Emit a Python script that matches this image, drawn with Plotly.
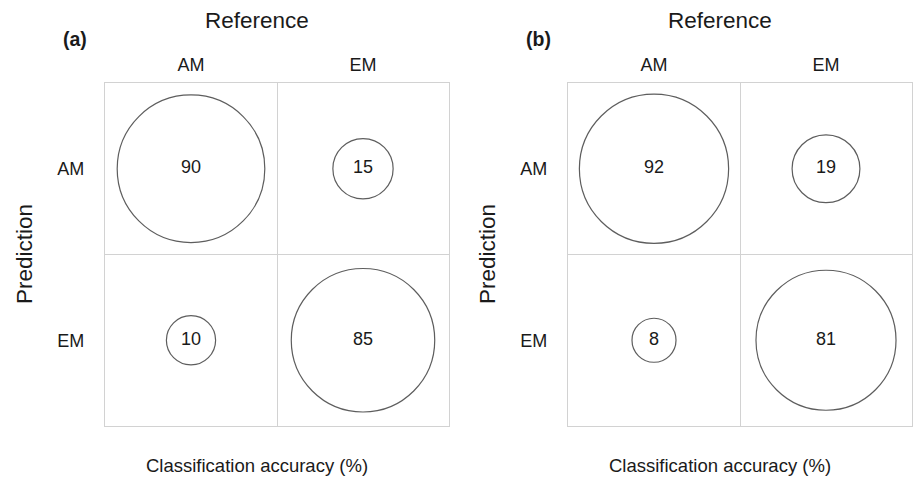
import plotly.graph_objects as go

# Confusion-matrix bubble charts: classification accuracy (%) per cell
classes = ["AM", "EM"]
# rows = prediction, columns = reference
acc_a = [[90, 15],   # predicted AM
         [10, 85]]   # predicted EM
acc_b = [[92, 19],
         [8, 81]]
panel_tags = ["(a)", "(b)"]

W, H = 914, 478
FONT = "Liberation Sans, Arial, Helvetica, sans-serif"
GRID = "#d2d2d2"
INK = "#1a1a1a"

# panel plot areas in pixels (left, right, top, bottom)
panels = [(105, 449, 83, 426), (568, 912, 83, 426)]

fig = go.Figure()

px_per_sqrt = 7.78  # bubble radius per sqrt(percent)
sizeref = 1.0 / (2 * px_per_sqrt ** 2)

for i, (mat, tag, (l, r, t, b)) in enumerate(zip([acc_a, acc_b], panel_tags, panels)):
    xs, ys, vals = [], [], []
    for ri, pred in enumerate(classes):
        for ci, ref in enumerate(classes):
            xs.append(ref)
            ys.append(pred)
            vals.append(mat[ri][ci])
    xa = "x" if i == 0 else "x2"
    ya = "y" if i == 0 else "y2"
    fig.add_trace(go.Scatter(
        x=xs, y=ys, mode="markers+text",
        text=[str(v) for v in vals], textposition="middle center",
        textfont=dict(family=FONT, size=18, color=INK),
        marker=dict(size=vals, sizemode="area", sizeref=sizeref,
                    color="rgba(255,255,255,0)",
                    line=dict(color=INK, width=1.2)),
        xaxis=xa, yaxis=ya, showlegend=False, hoverinfo="skip",
    ))

    axis_common = dict(
        type="category", showgrid=True, gridcolor=GRID, gridwidth=1.3,
        showline=True, linecolor=GRID, linewidth=1.3, mirror=True,
        zeroline=False, ticks="", tickson="boundaries",
        tickfont=dict(family=FONT, size=18, color=INK),
        range=[-0.5, 1.5], fixedrange=True,
    )
    xdom = [l / W, r / W]
    ydom = [1 - b / H, 1 - t / H]
    suffix = "" if i == 0 else "2"
    fig.update_layout(**{
        "xaxis" + suffix: dict(axis_common, domain=xdom, side="top",
                               categoryorder="array", categoryarray=classes,
                               ticklabelstandoff=4,
                               anchor="y" + suffix),
        "yaxis" + suffix: dict(axis_common, domain=ydom,
                               categoryorder="array", categoryarray=classes[::-1],
                               ticklabelstandoff=16,
                               anchor="x" + suffix),
    })

    cx = (l + r) / 2 - 20
    anns = [
        dict(text="Reference", x=cx / W, y=1 - 21 / H, size=22.5, angle=0),
        dict(text="<b>%s</b>" % tag, x=(l - 30) / W, y=1 - 39 / H, size=19.5, angle=0),
        dict(text="Prediction", x=(l - 81) / W, y=1 - 254 / H, size=22.5, angle=-90),
        dict(text="Classification accuracy (%)", x=cx / W, y=1 - 465 / H, size=18.5, angle=0),
    ]
    for a in anns:
        fig.add_annotation(
            text=a["text"], x=a["x"], y=a["y"], xref="paper", yref="paper",
            xanchor="center", yanchor="middle", showarrow=False,
            textangle=a["angle"],
            font=dict(family=FONT, size=a["size"], color=INK),
        )

fig.update_layout(
    width=W, height=H, margin=dict(l=0, r=0, t=0, b=0),
    paper_bgcolor="white", plot_bgcolor="white",
)

fig.write_html("out.html")
